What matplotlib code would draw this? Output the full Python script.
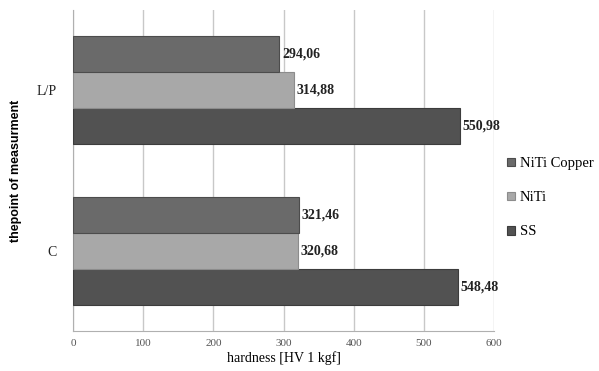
import numpy as np
import matplotlib.pyplot as plt

plt.rcParams['font.family'] = ['Liberation Serif', 'DejaVu Serif']

# data
points = ["C", "L/P"]
series = ["SS", "NiTi", "NiTi Copper"]
ss = [548.48, 550.98]
niti = [320.68, 314.88]
niti_copper = [321.46, 294.06]
xticks = [0, 100, 200, 300, 400, 500, 600]

values = [ss, niti, niti_copper]
colors = ["#525252", "#a8a8a8", "#6a6a6a"]
edges = ["#3c3c3c", "#8c8c8c", "#4c4c4c"]

fig = plt.figure(figsize=(5.99, 3.71), dpi=100)
ax = fig.add_axes([0.1219, 0.1078, 0.7028, 0.8652])

y = np.arange(len(points))
h = 0.225
bars = []
for i, (name, vals) in enumerate(zip(series, values)):
    pos = y + (i - 1) * h
    b = ax.barh(pos, vals, height=h, color=colors[i], edgecolor=edges[i],
                linewidth=0.8, label=name, zorder=3)
    bars.append(b)
    for p, v in zip(pos, vals):
        ax.text(v + 4, p, f"{v:.2f}".replace(".", ","), va="center", ha="left",
                fontsize=10, fontweight="bold", color="#222222", zorder=4)

ax.set_xlim(0, 600)
ax.set_ylim(-0.5, 1.5)
ax.set_xticks(xticks)
ax.set_xticklabels([str(t) for t in xticks], fontsize=8, color="#555555")
ax.set_yticks(y)
ax.set_yticklabels(points, fontsize=10, color="#222222")
ax.tick_params(axis="both", length=0)
ax.tick_params(axis="x", pad=6)
ax.tick_params(axis="y", pad=12)
ax.grid(axis="x", color="#c8c8c8", linewidth=1, zorder=0)
for s in ["top", "right"]:
    ax.spines[s].set_visible(False)
for s in ["left", "bottom"]:
    ax.spines[s].set_color("#b0b0b0")

ax.set_xlabel("hardness [HV 1 kgf]", fontsize=10, labelpad=2)
ax.set_ylabel("thepoint of measurment", fontsize=9, fontweight="bold",
              family=["Liberation Sans", "DejaVu Sans"])
ax.yaxis.set_label_coords(-0.122, 0.5)

handles = [bars[2], bars[1], bars[0]]
labels = ["NiTi Copper", "NiTi", "SS"]
leg = fig.legend(handles, labels, loc="center left", bbox_to_anchor=(0.847, 0.467),
                 frameon=False, fontsize=10.5, handlelength=0.55, handleheight=0.55,
                 handletextpad=0.3, labelspacing=1.45, borderaxespad=0, borderpad=0)

fig.savefig("out.png", dpi=100)
